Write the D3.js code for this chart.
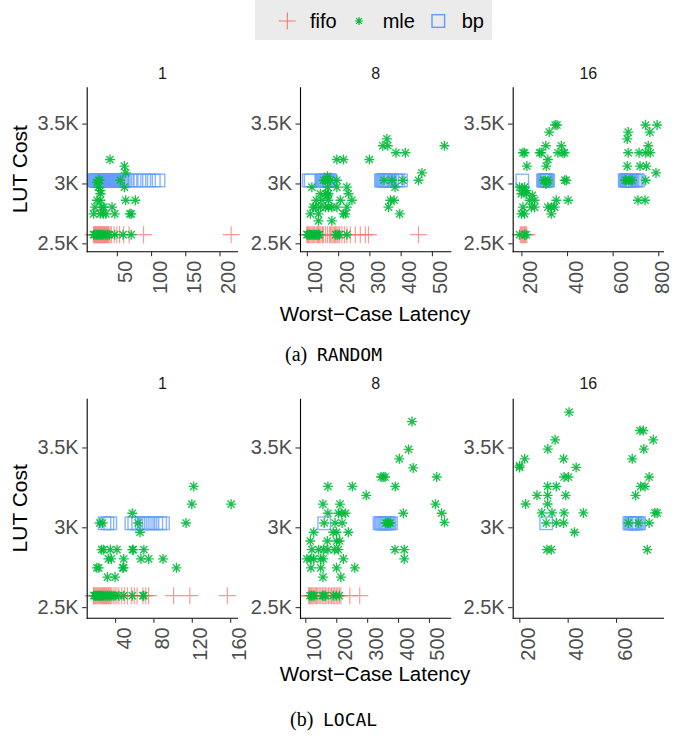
<!DOCTYPE html>
<html><head><meta charset="utf-8">
<script src="https://cdn.jsdelivr.net/npm/d3@7"></script>
<style>body{margin:0;background:#fff}svg{display:block}</style>
</head><body><svg id="c" width="674" height="736"></svg>
<script>
// ---------------- data ----------------
const groups = ["fifo", "mle", "bp"];
const panelTitles = ["1", "8", "16"];
const lutTicks = [2500, 3000, 3500];
const lutTickLabels = ["2.5K", "3K", "3.5K"];
const lutDomain = [2430, 3808];
const FIFO_LUT = 2572, BP_LUT = 3025;
const randomTicks = [[50, 100, 150, 200], [100, 200, 300, 400, 500], [200, 400, 600, 800]];
const localTicks = [[40, 80, 120, 160], [100, 200, 300, 400, 500], [200, 400, 600]];

// RANDOM, panel 1
const rand1Fifo = [16,17,18,19,20,21,22,23,24,25,26,27,28,29,30,31,32,33,34,35,36,37,38,40,42,46,50,54,60,68,89,217];
const rand1Bp = [17,18,19,20,21,22,23,24,25,26,27,28,29,30,31,32,33,34,35,36,37,38,39,40,41,42,43,44,45,46,47,48,49,50,52,54,56,58,60,62,66,70,76,83,90,97,104,111];
const rand1Mle = [[40,3200],[61,3145],[63,3088],[55,3027],[61,2969],[23,3027],[25,3027],[21,3010],[23,2969],[26,2914],[26,2940],[21,2860],[26,2860],[63,2860],[77,2860],[18,2802],[28,2802],[31,2802],[43,2802],[16,2746],[26,2746],[30,2746],[34,2746],[47,2746],[69,2746],[71,2746],
  [16,2572],[18,2572],[20,2572],[22,2572],[24,2572],[26,2572],[28,2572],[30,2572],[33,2572],[36,2572],[39,2572],[47,2572],[59,2572],[71,2572]];
// RANDOM, panel 8
const rand8Fifo = [100,102,105,109,113,117,121,125,130,134,137,141,145,150,153,160,166,172,176,180,184,188,192,196,200,205,212,220,228,239,255,271,287,297,457];
const rand8Bp = [106,112,148,151,154,157,160,163,166,169,172,175,337,340,343,346,349,352,355,358,361,364,367,373,383,392,401];
const rand8Mle = [[540,3315],[356,3372],[343,3315],[359,3315],[385,3256],[415,3256],[196,3200],[217,3200],[300,3200],[468,3088],[457,3027],[407,3027],[347,3027],[372,3027],[382,2969],[367,2860],[379,2860],[361,2802],[397,2746],
  [116,2969],[153,3027],[160,3027],[166,3027],[175,3027],[196,3027],[166,3060],[196,2969],[228,2969],[166,2969],[233,2914],[169,2914],[160,2914],[143,2914],[166,2900],[244,2860],[207,2860],[169,2860],[148,2860],[130,2860],
  [228,2802],[196,2802],[180,2802],[169,2802],[159,2802],[143,2802],[127,2802],[120,2802],[111,2746],[137,2746],[217,2746],[223,2746],[180,2688],[137,2688],
  [100,2572],[104,2572],[108,2572],[112,2572],[116,2572],[120,2572],[124,2572],[128,2572],[132,2572],[136,2572],[140,2572],[192,2572],[198,2572],[204,2572],[228,2572]];
// RANDOM, panel 16
const rand16Fifo = [195,200,205,210,214,218,224];
const rand16Bp = [204,295,298,301,304,307,310,313,317,653,656,659,662,665,668,671,674,677,680,684,688,698,705,711];
const rand16Mle = [[348,3488],[356,3488],[322,3429],[307,3315],[375,3315],[207,3256],[214,3256],[280,3256],[287,3256],[360,3256],[382,3256],[389,3256],[316,3200],[309,3145],[224,3145],
  [298,3027],[305,3027],[310,3010],[316,3027],[308,2995],[397,3027],[390,3027],[214,2969],[192,2969],[200,2914],[221,2914],[205,2940],[221,2940],[248,2900],[236,2860],[258,2860],
  [243,2802],[207,2802],[258,2802],[316,2802],[331,2802],[346,2802],[353,2860],[405,2860],[331,2746],[200,2746],[214,2746],[192,2572],[214,2572],[221,2572],
  [668,3429],[664,3372],[744,3488],[795,3488],[763,3429],[756,3315],[668,3256],[716,3256],[745,3256],[765,3256],[664,3145],[720,3145],[748,3145],[790,3088],
  [745,3027],[655,3027],[662,3027],[668,3027],[675,3027],[685,3027],[711,2860],[742,2860]];
// LOCAL, panel 1
const local1Fifo = [17.6,18,19,20,21,22,23,24,25,26,27,28,29,30,31,32,33,34,35,36,38,40,42,44,47,50,53,57,60,63,69,72,75,101,118,157];
const local1Bp = [29,32,35,57,60,64,68,72,75,79,83,87,90];
const local1Mle = [[122,3256],[120,3145],[161,3145],[58,3088],[114,3027],[24,3027],[27,3027],[64,3027],[66,2969],[26,2860],[28,2860],[35,2860],[42,2860],[58,2860],[59,2860],[70,2860],
  [33,2802],[36,2802],[49,2802],[67,2802],[75,2802],[90,2802],[21,2746],[23,2746],[48,2746],[49,2746],[104,2746],[32,2688],[40,2688],
  [18,2572],[19,2572],[20,2572],[21,2572],[22,2572],[23,2572],[24,2572],[25,2572],[26,2572],[28,2572],[30,2572],[32,2572],[34,2572],[36,2572],[38,2572],[40,2572],[44,2572],[49,2572],[58,2572],[69,2572],[70,2572]];
// LOCAL, panel 8
const local8Fifo = [111,113,116,120,124,128,132,136,140,145,150,155,160,165,170,175,180,185,190,195,200,205,210,215,244,276];
const local8Bp = [161,340,344,348,352,356,360,364,368,372,377];
const local8Mle = [[445,3662],[434,3488],[404,3429],[449,3372],[345,3315],[352,3315],[358,3315],[525,3315],[173,3256],[252,3256],[391,3256],[297,3200],[157,3145],[212,3145],[521,3145],
  [173,3088],[207,3088],[217,3088],[230,3088],[417,3088],[541,3088],[550,3031],[161,3027],[196,3027],[219,3027],[360,3027],[365,3027],[370,3027],[375,3027],
  [127,2969],[190,2969],[201,2969],[239,2969],[116,2914],[171,2914],[201,2914],[211,2914],[121,2860],[143,2860],[159,2860],[173,2860],[194,2860],[207,2860],[390,2860],[420,2860],
  [105,2802],[118,2802],[127,2802],[150,2802],[158,2802],[223,2802],[420,2802],[118,2746],[150,2746],[201,2746],[260,2746],[157,2688],[215,2688],
  [115,2572],[120,2572],[125,2572],[130,2572],[155,2572],[160,2572],[165,2572],[190,2572],[200,2572],[210,2572]];
// LOCAL, panel 16
const local16Fifo = [];
const local16Bp = [311,655,660,665,670,675,680,685,690,695];
const local16Mle = [[406,3721],[699,3606],[713,3606],[348,3548],[754,3548],[318,3490],[715,3490],[222,3429],[383,3429],[667,3429],[201,3375],[201,3385],[435,3375],
  [385,3315],[403,3315],[737,3315],[317,3256],[353,3256],[702,3256],[720,3256],[273,3200],[317,3200],[392,3200],[681,3200],[226,3146],[317,3146],
  [293,3090],[335,3090],[385,3090],[465,3090],[761,3090],[770,3090],[311,3027],[353,3027],[383,3027],[651,3027],[692,3027],[737,3027],[428,2969],[314,2860],[332,2860],[729,2860]];

// ---------------- layout ----------------
const colors = {fifo: "#F8766D", mle: "#00BA38", bp: "#619CFF"};
const FONT = "'Liberation Sans', Arial, Helvetica, sans-serif";
const panelX = [[86.7, 238], [300, 451.3], [512.7, 664]];
const charts = [
  {top: 86.7, bot: 251.7, strip: 79, titleY: 320.7, cap: ["(a)", "RANDOM"], capX: [285, 317], capY: 361, ticks: randomTicks,
   data: [{fifo: rand1Fifo, bp: rand1Bp, mle: rand1Mle}, {fifo: rand8Fifo, bp: rand8Bp, mle: rand8Mle}, {fifo: rand16Fifo, bp: rand16Bp, mle: rand16Mle}]},
  {top: 398.3, bot: 618.3, strip: 388.5, titleY: 680.7, cap: ["(b)", "LOCAL"], capX: [290, 323], capY: 725.7, ticks: localTicks,
   data: [{fifo: local1Fifo, bp: local1Bp, mle: local1Mle}, {fifo: local8Fifo, bp: local8Bp, mle: local8Mle}, {fifo: local16Fifo, bp: local16Bp, mle: local16Mle}]}
];

const plusPath = "M-8.5,0H8.5M0,-8.5V8.5";
const starPath = "M-5,0H5M0,-5V5M-3.6,-3.6L3.6,3.6M-3.6,3.6L3.6,-3.6";
const SQ = 12.5;

const svg = d3.select("#c");
svg.append("rect").attr("width", 674).attr("height", 736).attr("fill", "#fff");

// legend
const lg = svg.append("g");
lg.append("rect").attr("x", 255).attr("y", 0).attr("width", 237).attr("height", 40).attr("fill", "#ebebeb");
lg.append("path").attr("d", plusPath).attr("transform", "translate(287.3,21)").attr("stroke", colors.fifo).attr("stroke-width", 1.1).attr("fill", "none");
lg.append("path").attr("d", "M-4,0H4M0,-4V4M-2.9,-2.9L2.9,2.9M-2.9,2.9L2.9,-2.9").attr("transform", "translate(359,21)").attr("stroke", colors.mle).attr("stroke-width", 1.2).attr("fill", "none");
lg.append("rect").attr("x", 438.3 - 6.3).attr("y", 21 - 6.3).attr("width", 12.6).attr("height", 12.6).attr("stroke", colors.bp).attr("stroke-width", 1.4).attr("fill", "none");
[["fifo", 310], ["mle", 382.7], ["bp", 461.7]].forEach(([t, x]) =>
  lg.append("text").attr("x", x).attr("y", 28.3).text(t).attr("font-family", FONT).attr("font-size", 20).attr("fill", "#000"));

function padLabels(vals) {
  const w = d3.max(vals, v => String(v).length);
  return vals.map(v => String(v).padStart(w, " "));
}

charts.forEach(ch => {
  const ys = d3.scaleLinear().domain(lutDomain).range([ch.bot, ch.top]);
  ch.data.forEach((pd, i) => {
    const xsAll = pd.fifo.concat(pd.bp, pd.mle.map(d => d[0]));
    const [lo, hi] = d3.extent(xsAll);
    const pad = (hi - lo) * 0.05;
    const xs = d3.scaleLinear().domain([lo - pad, hi + pad]).range(panelX[i]);
    const g = svg.append("g");

    // strip title
    g.append("text").attr("x", (panelX[i][0] + panelX[i][1]) / 2).attr("y", ch.strip).attr("text-anchor", "middle")
      .attr("font-family", FONT).attr("font-size", 16).attr("fill", "#1a1a1a").text(panelTitles[i]);

    // points
    g.append("g").selectAll("path").data(pd.fifo).join("path")
      .attr("d", plusPath).attr("transform", d => `translate(${xs(d)},${ys(FIFO_LUT)})`)
      .attr("stroke", colors.fifo).attr("stroke-width", 1.15).attr("fill", "none").attr("stroke-opacity", 0.75);
    g.append("g").selectAll("rect").data(pd.bp).join("rect")
      .attr("x", d => xs(d) - SQ / 2).attr("y", ys(BP_LUT) - SQ / 2).attr("width", SQ).attr("height", SQ)
      .attr("stroke", colors.bp).attr("stroke-width", 1.4).attr("fill", "none").attr("stroke-opacity", 0.75);
    g.append("g").selectAll("path").data(pd.mle).join("path")
      .attr("d", starPath).attr("transform", d => `translate(${xs(d[0])},${ys(d[1])})`)
      .attr("stroke", colors.mle).attr("stroke-width", 1.35).attr("fill", "none").attr("stroke-opacity", 0.9);

    // y axis
    const ya = g.append("g").attr("transform", `translate(${panelX[i][0]},0)`)
      .call(d3.axisLeft(ys).tickValues(lutTicks).tickFormat((d, j) => lutTickLabels[j]).tickSize(4.5).tickSizeOuter(0).tickPadding(3.5));
    // x axis
    const labs = padLabels(ch.ticks[i]);
    const xa = g.append("g").attr("transform", `translate(0,${ch.bot})`)
      .call(d3.axisBottom(xs).tickValues(ch.ticks[i]).tickFormat((d, j) => labs[j]).tickSize(4.5).tickSizeOuter(0));
    xa.selectAll(".domain").attr("d", `M${panelX[i][0]},0H${panelX[i][1]}`);
    xa.selectAll(".tick text").attr("x", null).attr("y", null).attr("dy", null)
      .attr("transform", "translate(15,9) rotate(-90)").attr("text-anchor", "end").style("white-space", "pre");
    [ya, xa].forEach(a => {
      a.selectAll(".domain").attr("stroke", "#000").attr("stroke-width", 1.1);
      a.selectAll(".tick line").attr("stroke", "#333").attr("stroke-width", 1.1);
      a.selectAll(".tick text").attr("fill", "#4d4d4d").attr("font-size", 20).attr("font-family", FONT);
      a.attr("font-family", FONT);
    });
    // keep labels inside the canvas
    xa.selectAll(".tick text").each(function () {
      const r = this.getBoundingClientRect();
      if (r.right > 673) {
        const dx = 15 - (r.right - 673);
        d3.select(this).attr("transform", `translate(${dx},9) rotate(-90)`);
      }
    });
  });

  // axis titles
  svg.append("text").attr("transform", `translate(26.5,${(ch.top + ch.bot) / 2}) rotate(-90)`).attr("text-anchor", "middle")
    .attr("font-family", FONT).attr("font-size", 21).attr("fill", "#000").text("LUT Cost");
  svg.append("text").attr("x", 375).attr("y", ch.titleY).attr("text-anchor", "middle")
    .attr("font-family", FONT).attr("font-size", 20.5).attr("fill", "#000").text("Worst\u2212Case Latency");
  // caption
  svg.append("text").attr("x", ch.capX[0]).attr("y", ch.capY).attr("font-family", "'Liberation Serif', 'Times New Roman', serif")
    .attr("font-size", 20).attr("fill", "#000").text(ch.cap[0]);
  svg.append("text").attr("x", ch.capX[1]).attr("y", ch.capY).attr("font-family", "'DejaVu Sans Mono', monospace")
    .attr("font-size", 18).attr("fill", "#000").text(ch.cap[1]);
});
</script></body></html>
